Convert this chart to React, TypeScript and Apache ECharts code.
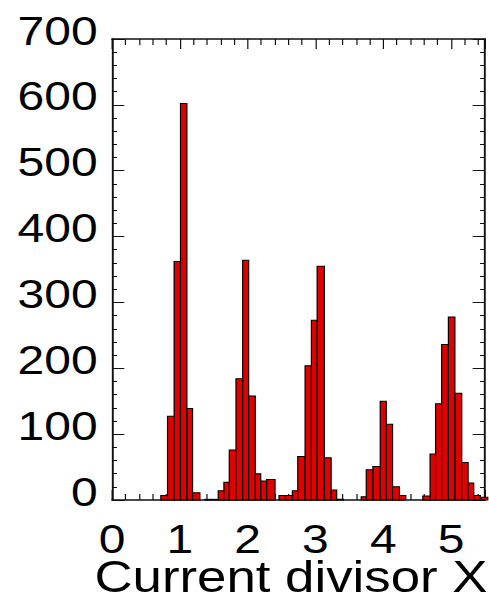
import React, { useEffect, useRef } from "react";
import * as echarts from "echarts";

// Histogram bins (data units on the x axis) and counts
const binLeft = [
  0.72, 0.819, 0.916, 1.01, 1.104, 1.188, 1.37, 1.466, 1.566, 1.65, 1.729, 1.828, 1.927, 2.015, 2.113,
  2.193, 2.281, 2.463, 2.559, 2.66, 2.739, 2.847, 2.94, 3.025, 3.132, 3.231, 3.313, 3.675, 3.749, 3.847,
  3.955, 4.044, 4.137, 4.239, 4.583, 4.69, 4.771, 4.861, 4.96, 5.056, 5.157, 5.251, 5.334, 5.433,
];
const binRight = [
  0.819, 0.916, 1.01, 1.104, 1.188, 1.296, 1.466, 1.566, 1.65, 1.729, 1.828, 1.927, 2.015, 2.113, 2.193,
  2.281, 2.404, 2.559, 2.66, 2.739, 2.847, 2.94, 3.025, 3.132, 3.231, 3.313, 3.413, 3.749, 3.847, 3.955,
  4.044, 4.137, 4.239, 4.332, 4.69, 4.771, 4.861, 4.96, 5.056, 5.157, 5.251, 5.334, 5.433, 5.541,
];
const counts = [
  7, 127, 362, 602, 139, 11, 1, 1, 14, 27, 76, 184, 364, 158, 40,
  29, 31, 7, 7, 14, 66, 204, 273, 355, 64, 15, 1, 5, 46, 51,
  150, 115, 20, 7, 6, 70, 146, 236, 278, 162, 57, 26, 7, 4,
];

const xTickLabels = ["0", "1", "2", "3", "4", "5"];
const yTickLabels = ["0", "100", "200", "300", "400", "500", "600", "700"];
const xName = "Current divisor X";

const FONT = "'Liberation Sans', Arial, Helvetica, sans-serif";
const STRETCH = 1.2;

export default function App() {
  const ref = useRef<HTMLDivElement>(null);

  useEffect(() => {
    if (!ref.current) return;
    const chart = echarts.init(ref.current, undefined, { renderer: "svg" });
    const data = counts.map((c, i) => [binLeft[i], binRight[i], c]);

    const axisLine = { show: true, onZero: false, lineStyle: { color: "#111", width: 1.6 } };
    const xTick = { show: true, inside: true, length: 10, lineStyle: { color: "#111", width: 1 } };
    const xMinor = { show: true, splitNumber: 5, length: 6, lineStyle: { color: "#111", width: 1 } };
    const yTick = { show: true, inside: true, length: 10.3, lineStyle: { color: "#111", width: 1 } };
    const yMinor = { show: true, splitNumber: 5, length: 4.2, lineStyle: { color: "#111", width: 1 } };

    const option: any = {
      animation: false,
      grid: {
        left: 93.33,
        right: 3.83,
        top: 39,
        bottom: 99,
        containLabel: false,
        outerBoundsMode: "none",
      },
      xAxis: [
        {
          type: "value",
          position: "bottom",
          min: 0,
          max: 5.5,
          interval: 1,
          axisLine,
          axisTick: xTick,
          minorTick: xMinor,
          splitLine: { show: false },
          axisLabel: {
            fontFamily: FONT,
            fontSize: 40,
            lineHeight: 30,
            color: "#000",
            margin: 24,
            formatter: (v: number) => {
              const idx = xTickLabels.indexOf(String(v));
              return idx >= 0 ? xTickLabels[idx] : "";
            },
          },
          name: xName,
          nameLocation: "middle",
          nameGap: 60,
          nameMoveOverlap: false,
          nameTextStyle: {
            fontFamily: FONT,
            fontSize: 44,
            lineHeight: 34,
            color: "#000",
            padding: [0, 12.6, 0, 0],
          },
        },
        {
          type: "value",
          position: "top",
          min: 0,
          max: 5.5,
          interval: 1,
          axisLine,
          axisTick: xTick,
          minorTick: xMinor,
          splitLine: { show: false },
          axisLabel: { show: false },
        },
      ],
      yAxis: [
        {
          type: "value",
          position: "left",
          min: 0,
          max: 700,
          interval: 100,
          axisLine,
          axisTick: yTick,
          minorTick: yMinor,
          splitLine: { show: false },
          axisLabel: {
            fontFamily: FONT,
            fontSize: 40,
            color: "#000",
            margin: 12,
            verticalAlign: "bottom",
            lineHeight: 17,
            formatter: (v: number) => {
              const idx = yTickLabels.indexOf(String(v));
              return idx >= 0 ? yTickLabels[idx] : "";
            },
          },
        },
        {
          type: "value",
          position: "right",
          min: 0,
          max: 700,
          interval: 100,
          axisLine,
          axisTick: yTick,
          minorTick: yMinor,
          splitLine: { show: false },
          axisLabel: { show: false },
        },
      ],
      series: [
        {
          type: "custom",
          xAxisIndex: 0,
          yAxisIndex: 0,
          clip: false,
          data,
          encode: { x: [0, 1], y: 2 },
          renderItem: (_params: any, api: any) => {
            const p0 = api.coord([api.value(0), api.value(2)]);
            const p1 = api.coord([api.value(1), 0]);
            return {
              type: "rect",
              shape: { x: p0[0], y: p0[1], width: p1[0] - p0[0], height: p1[1] - p0[1] },
              style: { fill: "#e00000", stroke: "#000", lineWidth: 1 },
            };
          },
        },
      ],
    };
    chart.setOption(option);
    return () => chart.dispose();
  }, []);

  return (
    <div
      ref={ref}
      style={{
        position: "fixed",
        left: 0,
        top: 0,
        width: 408,
        height: 599,
        transform: `scaleX(${STRETCH})`,
        transformOrigin: "0 0",
        background: "#fff",
      }}
    />
  );
}
